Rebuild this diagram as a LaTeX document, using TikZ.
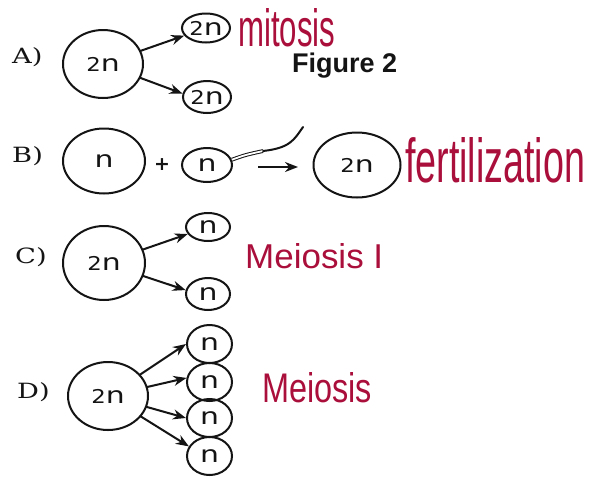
\documentclass[tikz,border=0pt]{standalone}
\usepackage{fontspec}
\setmainfont{DejaVu Serif}
\newfontfamily\cellfont{DejaVu Sans}
\newfontfamily\figfont{Liberation Sans}
\newfontfamily\handfont{Liberation Sans}
\usetikzlibrary{arrows.meta,shapes.geometric}
\definecolor{ink}{RGB}{20,20,20}
\definecolor{pen}{RGB}{170,15,60}
\newcommand{\cn}{\scalebox{1.3}[1]{\fontsize{23}{23}\selectfont n}}
\newcommand{\ctwo}{\scalebox{1.2}[1]{\fontsize{19}{19}\selectfont 2}}
\newcommand{\wide}[1]{\scalebox{1.3}[1]{#1}}
\begin{document}
\begin{tikzpicture}[x=1pt,y=-1pt,
  cell/.style={draw=ink,line width=2pt,ellipse,inner sep=0pt,font=\cellfont,text=ink},
  arr/.style={draw=ink,line width=2pt,-{Stealth[length=13pt,width=10pt]},shorten <=-1pt},
  lab/.style={anchor=base west,inner sep=0pt,font=\fontsize{21}{21}\selectfont,text=ink},
  hand/.style={anchor=base west,inner sep=0pt,font=\handfont,text=pen}]
\fill[white] (0,0) rectangle (601,477);
\useasboundingbox (0,0) rectangle (601,477);
% A
\node[lab] (la) at (12,63) {\wide{A)}};
\node[cell,minimum width=80pt,minimum height=68pt] (a0) at (103,64) {\ctwo\cn};
\node[cell,minimum width=48pt,minimum height=29pt] (a1) at (206,28) {\ctwo\cn};
\node[cell,minimum width=48pt,minimum height=32pt] (a2) at (207,97) {\ctwo\cn};
\draw[arr] (a0) -- (a1);
\draw[arr] (a0) -- (a2.172);
\node[hand] (mit) at (238,46) {\resizebox{97pt}{38pt}{mitosis}};
\node[anchor=base west,inner sep=0pt,text height=19pt,font=\figfont\bfseries\fontsize{27}{27}\selectfont,text=ink] (fig) at (292,72) {Figure 2};
% B
\node[lab] (lb) at (12,162) {\wide{B)}};
\node[cell,minimum width=82pt,minimum height=65pt] (b0) at (104,161) {\cn};
\node[font=\cellfont\bfseries\fontsize{19}{19}\selectfont,text=ink,inner sep=0pt] (plus) at (162,165) {+};
\node[cell,minimum width=50pt,minimum height=34pt] (b1) at (207,165) {\cn};
\node[cell,minimum width=87pt,minimum height=65pt] (b3) at (357,165) {\ctwo\cn};
\coordinate (t1) at (263,151);
\coordinate (t2) at (303,127);
\draw[ink,line width=1pt,double=white,double distance=1.8pt] (b1.12) .. controls (245,155) .. (t1);
\draw[ink,line width=2pt,line cap=round] (t1) .. controls (290,148) and (294,140) .. (t2);
\coordinate (s0) at (258,167);
\coordinate (s1) at (298,167);
\draw[arr,shorten <=0pt] (s0) -- (s1);
\node[hand] (fert) at (405,182) {\resizebox{180pt}{45pt}{fertilization}};
% C
\node[lab] (lc) at (15,263) {\wide{C)}};
\node[cell,minimum width=82pt,minimum height=74pt] (c0) at (104,263) {\ctwo\cn};
\node[cell,minimum width=44pt,minimum height=28pt] (c1) at (208,227) {\cn};
\node[cell,minimum width=44pt,minimum height=32pt] (c2) at (208,294) {\cn};
\draw[arr] (c0) -- (c1);
\draw[arr] (c0) -- (c2.170);
\node[hand] (mei1) at (245,268) {\resizebox{138pt}{25pt}{Meiosis I}};
% D
\node[lab] (ld) at (17,398) {\wide{D)}};
\node[cell,minimum width=80pt,minimum height=68pt] (d0) at (108,396) {\ctwo\cn};
\node[cell,minimum width=45pt,minimum height=38pt] (d1) at (209.5,344) {\cn};
\node[cell,minimum width=45pt,minimum height=38pt] (d2) at (209.5,382) {\cn};
\node[cell,minimum width=45pt,minimum height=38pt] (d3) at (209.5,418) {\cn};
\node[cell,minimum width=45pt,minimum height=38pt] (d4) at (209.5,456) {\cn};
\draw[arr] (d0) -- (d1.west);
\draw[arr] (d0) -- (d2.170);
\draw[arr] (d0) -- (d3.west);
\draw[arr] (d0) -- (d4.155);
\node[hand] (mei) at (262,402) {\resizebox{110pt}{30pt}{Meiosis}};
\end{tikzpicture}
\end{document}
